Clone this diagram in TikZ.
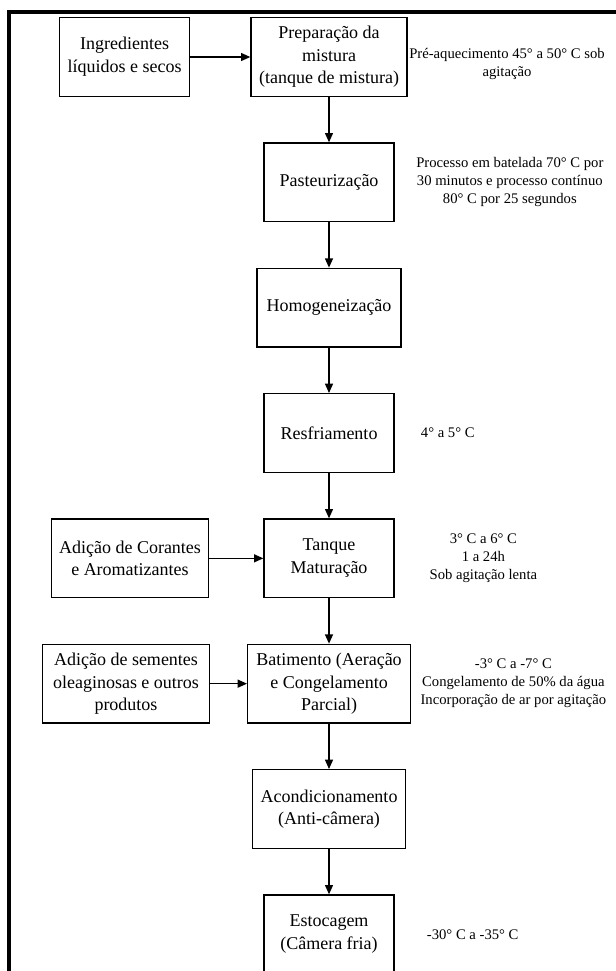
\documentclass[tikz,border=0pt]{standalone}
\usepackage{fontspec}
\setmainfont{Liberation Serif}
\usetikzlibrary{positioning,arrows.meta}

\begin{document}
\begin{tikzpicture}[
    font=\fontsize{13.5}{17}\selectfont,
    node distance=34pt,
    box/.style={draw, line width=1pt, minimum width=97.5pt, minimum height=59pt, inner sep=3pt, align=center},
    note/.style={font=\fontsize{11}{13.5}\selectfont, inner sep=0pt, align=center},
    arr/.style={-{Triangle[length=7pt,width=6pt]}, line width=1pt},
]
\useasboundingbox (0,0) rectangle (462pt,-728.25pt);
\draw[line width=3.2pt] (7pt,-728.25pt) |- (462pt,-9pt);

\node[box, minimum width=117pt] (prep) at (246.75pt,-42.75pt) {Preparação da\\mistura\\(tanque de mistura)};
\node[box, left=45pt of prep] (ingr) {Ingredientes\\líquidos e secos};
\node[box, below=of prep] (past) {Pasteurização};
\node[box, below=of past, minimum width=108pt] (homo) {Homogeneização};
\node[box, below=of homo] (resf) {Resfriamento};
\node[box, below=of resf] (tanq) {Tanque\\Maturação};
\node[box, left=40.5pt of tanq, minimum width=118pt] (cor) {Adição de Corantes\\e Aromatizantes};
\node[box, below=of tanq, minimum width=122pt] (bati) {Batimento (Aeração\\e Congelamento\\Parcial)};
\node[box, left=27.75pt of bati, minimum width=125pt] (sem) {Adição de sementes\\oleaginosas e outros\\produtos};
\node[box, below=of bati, minimum width=115pt] (acon) {Acondicionamento\\(Anti-câmera)};
\node[box, below=of acon] (esto) {Estocagem\\(Câmera fria)};

\node[note, right=1pt of prep, yshift=-5pt] (prepnote) {Pré-aquecimento 45° a 50° C sob\\agitação};
\node[note, right=16pt of past] (pastnote) {Processo em batelada 70° C por\\30 minutos e processo contínuo\\80° C por 25 segundos};
\node[note, right=19.5pt of resf] (resfnote) {4° a 5° C};
\node[note, right=26pt of tanq] (tanqnote) {3° C a 6° C\\1 a 24h\\Sob agitação lenta};
\node[note, right=7pt of bati] (batinote) {-3° C a -7° C\\Congelamento de 50\% da água\\Incorporação de ar por agitação};
\node[note, right=24pt of esto] (estonote) {-30° C a -35° C};

\draw[arr] (ingr) -- (prep);
\draw[arr] (prep) -- (past);
\draw[arr] (past) -- (homo);
\draw[arr] (homo) -- (resf);
\draw[arr] (resf) -- (tanq);
\draw[arr] (cor)  -- (tanq);
\draw[arr] (tanq) -- (bati);
\draw[arr] (sem)  -- (bati);
\draw[arr] (bati) -- (acon);
\draw[arr] (acon) -- (esto);
\end{tikzpicture}
\end{document}
